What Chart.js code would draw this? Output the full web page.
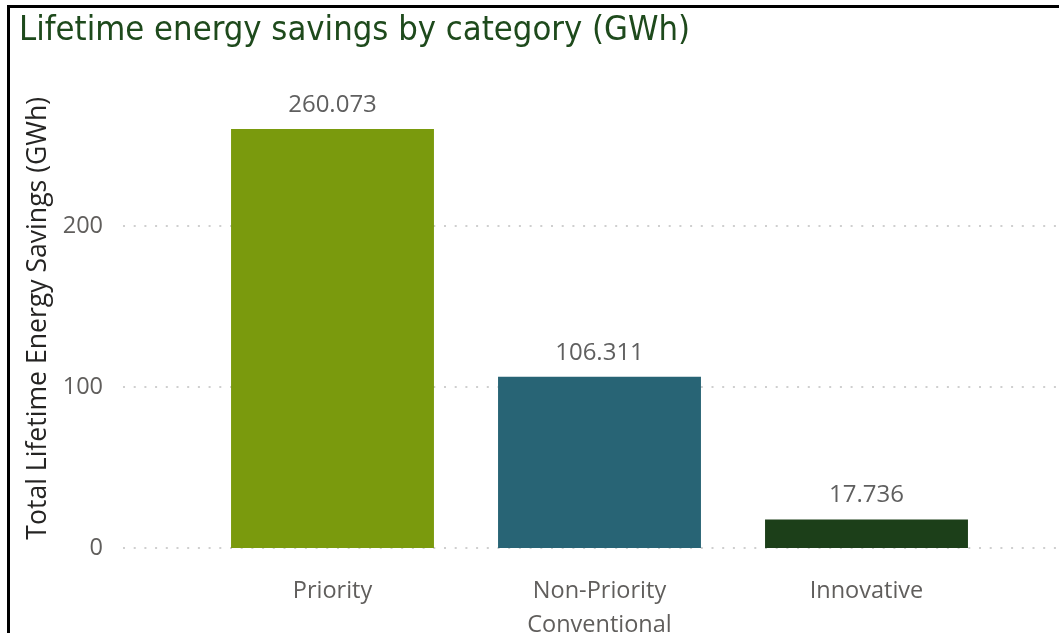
<!DOCTYPE html>
<html>
<head>
<meta charset="utf-8">
<script src="https://cdn.jsdelivr.net/npm/chart.js@4"></script>
<style>
  html, body { margin: 0; padding: 0; background: #fff; overflow: hidden; }
  #wrap { position: relative; width: 1059px; height: 633px; }
  canvas { display: block; }
  #frame {
    position: absolute; left: 7px; top: 5px; width: 1100px; height: 700px;
    border-left: 3px solid #000; border-top: 3px solid #000; pointer-events: none;
  }
</style>
</head>
<body>
<div id="wrap">
  <canvas id="chartHemat" width="1059" height="633"></canvas>
  <div id="frame"></div>
</div>
<script>
// data
const kategori = ["Priority", ["Non-Priority", "Conventional"], "Innovative"];
const hemat = [260.073, 106.311, 17.736];
const warnaBatang = ["#7a9a0d", "#286475", "#1c3f19"];
const tickY = [0, 100, 200];

// garis grid titik-titik, lebih lebar dari area chart (gaya Power BI)
const gridTitik = {
  id: "gridTitik",
  beforeDatasetsDraw(chart) {
    const { ctx } = chart;
    const y = chart.scales.y;
    ctx.save();
    ctx.strokeStyle = "#cfcfcf";
    ctx.lineWidth = 2;
    ctx.setLineDash([2, 8.7]);
    y.ticks.forEach((t) => {
      const py = Math.round(y.getPixelForValue(t.value));
      ctx.beginPath();
      ctx.moveTo(123, py);
      ctx.lineTo(1058, py);
      ctx.stroke();
    });
    ctx.restore();
  },
};

// label nilai di atas batang
const labelNilai = {
  id: "labelNilai",
  afterDatasetsDraw(chart) {
    const { ctx } = chart;
    const meta = chart.getDatasetMeta(0);
    ctx.save();
    ctx.fillStyle = "#5f5f5f";
    ctx.font = '24px "Open Sans", sans-serif';
    ctx.textAlign = "center";
    ctx.textBaseline = "middle";
    meta.data.forEach((bar, i) => {
      ctx.fillText(hemat[i].toFixed(3), bar.x, bar.y - 24);
    });
    ctx.restore();
  },
};

const ctx = document.getElementById("chartHemat").getContext("2d");
new Chart(ctx, {
  type: "bar",
  data: {
    labels: kategori,
    datasets: [{
      data: hemat,
      backgroundColor: warnaBatang,
      barPercentage: 0.76,
      categoryPercentage: 1,
    }],
  },
  options: {
    responsive: false,
    animation: false,
    layout: { padding: { left: 19, right: 59, top: 0, bottom: 0 } },
    plugins: {
      legend: { display: false },
      tooltip: { enabled: false },
      title: {
        display: true,
        text: "Lifetime energy savings by category (GWh)",
        align: "start",
        color: "#1e4a1c",
        font: { family: '"DejaVu Sans Condensed", sans-serif', size: 34.3, weight: "normal", lineHeight: 1.2 },
        padding: { top: 11, bottom: 44.8 },
      },
    },
    scales: {
      x: {
        grid: { display: false, drawTicks: false },
        border: { display: false },
        ticks: {
          color: "#605e5c",
          padding: 26,
          font: { family: '"Open Sans", sans-serif', size: 23.5, lineHeight: 1.45 },
        },
        afterFit(scale) { scale.height = 85; },
      },
      y: {
        min: 0,
        max: 280,
        grid: { display: false, drawTicks: false },
        border: { display: false },
        afterBuildTicks(scale) { scale.ticks = tickY.map((v) => ({ value: v })); },
        ticks: {
          color: "#605e5c",
          padding: 96,
          font: { family: '"Open Sans", sans-serif', size: 23.5 },
        },
        title: {
          display: true,
          text: "Total Lifetime Energy Savings (GWh)",
          color: "#252423",
          align: "end",
          padding: { top: 3, bottom: 0 },
          font: { family: '"Open Sans", sans-serif', size: 26.6, lineHeight: 1.2 },
        },
        afterFit(scale) {
          scale.width = 180;
          // padding tick besar jangan ikut mendorong area chart
          scale.paddingTop = 0;
          scale.paddingBottom = 0;
        },
      },
    },
  },
  plugins: [gridTitik, labelNilai],
});
</script>
</body>
</html>
